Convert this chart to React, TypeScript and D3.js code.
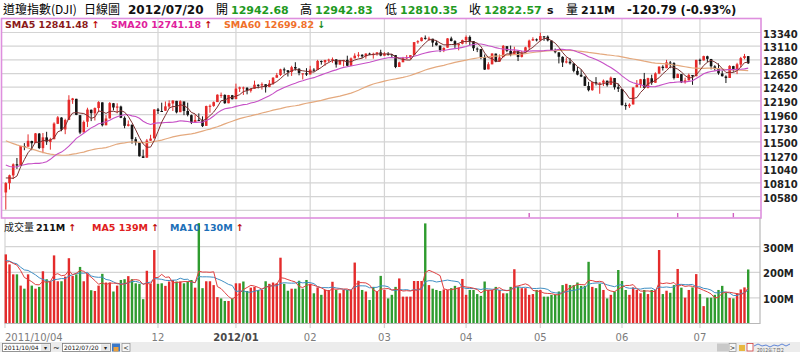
import React, { useEffect, useRef } from 'react';
import * as d3 from 'd3';

// DJI daily candles, 2011/10/04 .. 2012/07/20 (201 sessions)
const opens = [
  10650, 10806, 10936, 11124, 11105, 11430, 11420, 11515, 11480, 11640, 11395, 11576, 11500, 11545, 11805, 11910, 11710, 11870, 12205, 12225,
  11950, 11660, 11840, 12040, 11980, 12070, 12165, 11780, 11895, 12150, 12075, 12095, 11905, 11770, 11790, 11545, 11490, 11258, 11235, 11520, 11560,
  12045, 12020, 12025, 12095, 12145, 12190, 12000, 12180, 12020, 11950, 11825, 11870, 11865, 11770, 12100, 12105, 12170, 12290, 12290, 12150, 12285,
  12220, 12395, 12410, 12410, 12360, 12395, 12460, 12450, 12470, 12425, 12480, 12580, 12625, 12720, 12705, 12675, 12760, 12730, 12640, 12655,
  12635, 12715, 12710, 12860, 12840, 12875, 12885, 12888, 12800, 12875, 12880, 12780, 12905, 12950, 12965, 12940, 12985, 12960, 12980, 13005,
  12950, 12980, 12975, 12960, 12760, 12840, 12905, 12920, 12960, 13175, 13195, 13250, 13235, 13235, 13170, 13120, 13045, 13085, 13240, 13195, 13125, 13150,
  13210, 13265, 13195, 13070, 13060, 12925, 12720, 12805, 12985, 12850, 12925, 13110, 13030, 12970, 13025, 12930, 13005, 13090, 13205, 13225,
  13210, 13275, 13270, 13205, 13035, 13005, 12930, 12835, 12850, 12820, 12695, 12630, 12600, 12440, 12370, 12505, 12490, 12495, 12530, 12460, 12575, 12420,
  12390, 12120, 12100, 12130, 12420, 12460, 12555, 12410, 12570, 12495, 12650, 12765, 12740, 12835, 12825, 12575, 12640, 12505, 12535, 12625, 12605,
  12880, 12870, 12940, 12895, 12770, 12735, 12650, 12600, 12575, 12775, 12725, 12800, 12910, 12942.68,
];
const highs = [
  10824, 10950, 11139, 11230, 11433, 11480, 11627, 11520, 11650, 11650, 11650, 11670, 11570, 11830, 11935, 11915, 11890, 12285, 12240, 12225,
  11950, 11860, 12075, 12045, 12080, 12185, 12165, 11950, 12170, 12155, 12150, 12110, 11930, 11860, 11790, 11580, 11490, 11370, 11550, 11620, 12050,
  12070, 12160, 12180, 12200, 12200, 12190, 12200, 12180, 12160, 11960, 11960, 11980, 11930, 12110, 12130, 12180, 12300, 12330, 12300, 12290, 12290,
  12480, 12430, 12430, 12420, 12400, 12530, 12470, 12500, 12470, 12540, 12590, 12660, 12730, 12750, 12705, 12780, 12840, 12740, 12655, 12740,
  12780, 12740, 12880, 12870, 12880, 12900, 12920, 12890, 12880, 12880, 12950, 12920, 12990, 13010, 12975, 12990, 13000, 13000, 13010, 13050,
  13010, 13010, 12980, 12960, 12850, 12930, 12960, 12960, 13180, 13210, 13260, 13290, 13270, 13235, 13200, 13120, 13090, 13245, 13270, 13210, 13160, 13220,
  13290, 13290, 13195, 13090, 13060, 12970, 12840, 12990, 12985, 12970, 13130, 13110, 13120, 13100, 13025, 13030, 13100, 13220, 13260, 13240,
  13338, 13280, 13290, 13205, 13070, 13010, 12940, 12920, 12910, 12820, 12760, 12720, 12600, 12510, 12510, 12590, 12500, 12550, 12530, 12600, 12575, 12480,
  12390, 12160, 12150, 12420, 12540, 12560, 12660, 12580, 12630, 12670, 12770, 12790, 12880, 12860, 12840, 12650, 12640, 12580, 12650, 12625, 12880,
  12900, 12950, 12950, 12895, 12790, 12820, 12700, 12620, 12790, 12780, 12830, 12930, 12980, 12942.83,
];
const lows = [
  10362, 10700, 10875, 11046, 11105, 11360, 11420, 11360, 11480, 11380, 11310, 11450, 11370, 11545, 11800, 11680, 11630, 11870, 12140, 11950,
  11630, 11660, 11750, 11850, 11860, 12000, 11760, 11780, 11895, 12030, 11980, 11900, 11730, 11760, 11470, 11440, 11255, 11230, 11235, 11520, 11560,
  11970, 12010, 12020, 12060, 12020, 11980, 12000, 11950, 11930, 11800, 11825, 11850, 11750, 11770, 11990, 12090, 12170, 12240, 12140, 12150, 12215,
  12220, 12340, 12290, 12300, 12330, 12395, 12400, 12380, 12330, 12420, 12460, 12580, 12610, 12650, 12600, 12610, 12700, 12620, 12550, 12610,
  12635, 12680, 12710, 12800, 12780, 12840, 12830, 12750, 12800, 12770, 12770, 12780, 12905, 12920, 12910, 12900, 12960, 12900, 12950, 12940,
  12950, 12950, 12920, 12740, 12760, 12840, 12890, 12890, 12960, 13150, 13190, 13220, 13200, 13100, 13120, 13010, 13010, 13085, 13190, 13080, 13040, 13140,
  13150, 13130, 13030, 13010, 12890, 12710, 12720, 12805, 12840, 12850, 12925, 13010, 12940, 12970, 12860, 12920, 13000, 13050, 13200, 13190,
  13190, 13200, 13190, 13030, 12990, 12820, 12760, 12820, 12800, 12670, 12620, 12590, 12440, 12350, 12360, 12450, 12310, 12440, 12430, 12460, 12380, 12340,
  12110, 12040, 12070, 12130, 12420, 12410, 12400, 12400, 12460, 12495, 12640, 12700, 12740, 12740, 12550, 12575, 12490, 12480, 12535, 12460, 12605,
  12800, 12870, 12840, 12720, 12700, 12630, 12600, 12490, 12575, 12680, 12640, 12750, 12890, 12810.35,
];
const closes = [
  10808, 10939, 11123, 11103, 11433, 11416, 11519, 11478, 11644, 11397, 11577, 11505, 11541, 11809, 11913, 11707, 11869, 12209, 12231, 11955,
  11657, 11836, 12044, 11983, 12069, 12170, 11780, 11894, 12153, 12079, 12096, 11906, 11771, 11796, 11548, 11494, 11258, 11231, 11523, 11556, 12046,
  12020, 12019, 12098, 12150, 12196, 11997, 12184, 12021, 11955, 11824, 11869, 11866, 11766, 12103, 12107, 12169, 12294, 12291, 12151, 12288, 12218,
  12397, 12418, 12415, 12360, 12392, 12462, 12449, 12471, 12422, 12482, 12579, 12623, 12720, 12708, 12675, 12756, 12734, 12660, 12653, 12633,
  12716, 12705, 12862, 12845, 12878, 12884, 12891, 12801, 12874, 12878, 12781, 12904, 12950, 12966, 12938, 12985, 12983, 12981, 13005, 12952,
  12980, 12977, 12962, 12759, 12837, 12908, 12922, 12959, 13178, 13194, 13253, 13233, 13239, 13171, 13125, 13046, 13081, 13241, 13197, 13127, 13146, 13212,
  13264, 13199, 13075, 13060, 12929, 12716, 12806, 12987, 12850, 12921, 13115, 13033, 12965, 13029, 12928, 13002, 13091, 13204, 13229, 13214,
  13280, 13269, 13207, 13038, 13009, 12932, 12835, 12855, 12821, 12695, 12632, 12599, 12443, 12370, 12504, 12502, 12496, 12530, 12455, 12581, 12419, 12393,
  12119, 12101, 12127, 12415, 12461, 12554, 12411, 12573, 12497, 12652, 12767, 12742, 12838, 12825, 12574, 12641, 12503, 12535, 12627, 12602, 12880,
  12871, 12943, 12897, 12773, 12737, 12654, 12605, 12574, 12778, 12727, 12806, 12909, 12943, 12822.57,
];
// volume, millions of shares
const volumes = [
  270, 231, 192, 192, 148, 136, 192, 148, 136, 143, 204, 173, 165, 266, 165, 165, 183, 255, 186, 192,
  221, 165, 196, 130, 127, 148, 194, 160, 160, 125, 148, 170, 173, 185, 173, 157, 155, 95, 206, 155,
  287, 155, 157, 147, 164, 170, 164, 164, 157, 164, 170, 140, 392, 138, 165, 165, 150, 103, 98, 88,
  88, 98, 157, 157, 164, 127, 140, 143, 131, 131, 165, 155, 160, 157, 257, 155, 128, 136, 136, 167,
  136, 170, 155, 118, 141, 112, 131, 131, 163, 131, 118, 131, 131, 131, 238, 167, 131, 125, 92, 143,
  125, 186, 131, 98, 112, 143, 176, 105, 105, 105, 166, 166, 166, 391, 150, 136, 131, 127, 133, 131,
  138, 147, 141, 174, 112, 131, 131, 115, 108, 164, 131, 131, 143, 131, 118, 118, 143, 212, 143, 138,
  138, 112, 115, 131, 131, 105, 105, 112, 112, 125, 150, 155, 150, 150, 160, 147, 147, 241, 143, 138,
  155, 131, 98, 112, 125, 209, 166, 131, 112, 141, 131, 118, 131, 115, 131, 131, 287, 115, 128, 120,
  150, 213, 140, 101, 131, 141, 193, 115, 68, 101, 101, 112, 131, 147, 120, 100, 98, 118, 133, 141,
  211,
];
// sessions before 2011/10/04, only needed to warm up the moving averages
const priorCloses = [
  12505, 12446, 12491, 12437, 12480, 12385, 12587, 12572, 12724, 12681, 12592, 12501, 12302, 12240, 12143,
  12132, 11867, 11896, 11384, 11445, 10810, 11240, 10720, 11143, 11270, 11483, 11406, 11410, 10991, 10818,
  10855, 11177, 11321, 11150, 11285, 11540, 11560, 11614,
  11494, 11240, 11139, 11415, 11296, 10992, 11062, 11106, 11247, 11434, 11510, 11401, 11409, 11125, 10734,
  10772, 11044, 11191, 10939, 11154, 10913, 10655,
];
const priorVolumes = [250, 265, 230, 280, 240, 215, 230, 225, 255];

const monthDays = [20, 21, 21, 20, 20, 22, 20, 22, 21, 14];
const monthLabels = ['2011/10/04', '', '12', '2012/01', '02', '03', '04', '05', '06', '07'];
const priceTicks = [13340, 13110, 12880, 12650, 12420, 12190, 11960, 11730, 11500, 11270, 11040, 10810, 10580, 10350];
const volumeTicks = [100, 200, 300];
const markerDays = [141, 181, 196];

const CJK = '"Noto Sans CJK TC", "Noto Sans", sans-serif';
const NUM = '"DejaVu Sans", Verdana, sans-serif';

function movingAvg(values: number[], prior: number[], n: number) {
  const all = prior.concat(values);
  return values.map((_, i) => {
    const end = prior.length + i + 1;
    const start = Math.max(0, end - n);
    return d3.mean(all.slice(start, end)) as number;
  });
}

export default function App() {
  const ref = useRef<SVGSVGElement>(null);

  useEffect(() => {
    drawChart();
  }, []);

  function drawChart() {
    const svg = d3.select(ref.current);
    svg.selectAll('*').remove();

    const n = closes.length;
    const x = d3.scaleLinear().domain([0, n - 1]).range([5.8, 748.2]);
    const y = d3.scaleLinear().domain([10350, 13340]).range([210.3, 32.5]);
    const yv = d3.scaleLinear().domain([0, 300]).range([323.5, 246.7]);

    const sma5 = movingAvg(closes, priorCloses, 5);
    const sma20 = movingAvg(closes, priorCloses, 20);
    const sma60 = movingAvg(closes, priorCloses, 60);
    const vma5 = movingAvg(volumes, priorVolumes, 5);
    const vma10 = movingAvg(volumes, priorVolumes, 10);

    svg.append('rect').attr('width', 800).attr('height', 352).attr('fill', '#fff');

    // header line
    const head = svg.append('g');
    const headItems: [number, string, string, string, number, string][] = [
      [3, '道瓊指數(DJI)', '#000', 'normal', 12, CJK],
      [84, '日線圖', '#000', 'normal', 12, CJK],
      [128, '2012/07/20', '#111', 'bold', 12, NUM],
      [216, '開', '#000', 'normal', 12, CJK],
      [231, '12942.68', '#1f9a1f', 'bold', 11, NUM],
      [300, '高', '#000', 'normal', 12, CJK],
      [315, '12942.83', '#1f9a1f', 'bold', 11, NUM],
      [385, '低', '#000', 'normal', 12, CJK],
      [400, '12810.35', '#1f9a1f', 'bold', 11, NUM],
      [469, '收', '#000', 'normal', 12, CJK],
      [484, '12822.57', '#1f9a1f', 'bold', 11, NUM],
      [547, 's', '#111', 'bold', 11, NUM],
      [566, '量', '#000', 'normal', 12, CJK],
      [581, '211M', '#111', 'bold', 11, NUM],
      [627, '-120.79 (-0.93%)', '#111', 'bold', 11.6, NUM],
    ];
    headItems.forEach(([hx, t, c, w, s, f]) => {
      head.append('text').attr('x', hx).attr('y', 14).attr('fill', c)
        .attr('font-weight', w).attr('font-size', s).attr('font-family', f).text(t);
    });

    // grid
    const grid = svg.append('g').attr('stroke', '#d4d4d4').attr('stroke-width', 1.2);
    priceTicks.forEach(v => {
      grid.append('line').attr('x1', 2).attr('x2', 761).attr('y1', y(v)).attr('y2', y(v));
    });
    volumeTicks.forEach(v => {
      grid.append('line').attr('x1', 5).attr('x2', 760).attr('y1', yv(v)).attr('y2', yv(v));
    });
    const monthStart = d3.cumsum([0].concat(monthDays.slice(0, -1)));
    monthLabels.forEach((lab, m) => {
      if (!lab || m === 0) return;
      const mx = x(monthStart[m]);
      grid.append('line').attr('x1', mx).attr('x2', mx).attr('y1', 18).attr('y2', 328);
    });
    grid.append('line').attr('x1', 5).attr('x2', 5).attr('y1', 218).attr('y2', 328);

    // candles
    const candles = svg.append('g');
    closes.forEach((c, i) => {
      const o = opens[i];
      const up = c >= o;
      const col = up ? '#e62a2a' : '#141414';
      const cx = x(i);
      candles.append('line').attr('x1', cx).attr('x2', cx)
        .attr('y1', y(highs[i])).attr('y2', y(lows[i])).attr('stroke', col).attr('stroke-width', 1);
      const top = y(Math.max(o, c));
      const h = Math.max(1, Math.abs(y(o) - y(c)));
      candles.append('rect').attr('x', cx - 1.3).attr('y', top).attr('width', 2.6).attr('height', h).attr('fill', col);
    });

    const line = d3.line<number>().x((_, i) => x(i)).y(d => y(d));
    svg.append('path').datum(sma60).attr('fill', 'none').attr('stroke', '#e4a97e').attr('stroke-width', 1.2).attr('d', line);
    svg.append('path').datum(sma20).attr('fill', 'none').attr('stroke', '#c650c6').attr('stroke-width', 1.1).attr('d', line);
    svg.append('path').datum(sma5).attr('fill', 'none').attr('stroke', '#7d3030').attr('stroke-width', 1).attr('d', line);

    // event markers at the bottom of the price panel
    markerDays.forEach(d => {
      svg.append('rect').attr('x', x(d) - 0.7).attr('y', 213).attr('width', 1.4).attr('height', 4.5).attr('fill', '#d060c0');
    });

    // volume bars
    const vol = svg.append('g');
    volumes.forEach((v, i) => {
      const prev = i === 0 ? priorCloses[priorCloses.length - 1] : closes[i - 1];
      const col = closes[i] >= prev ? '#e42b2b' : '#2e9b2e';
      vol.append('rect').attr('x', x(i) - 1.2).attr('y', yv(v)).attr('width', 2.4)
        .attr('height', yv(0) - yv(v)).attr('fill', col);
    });
    const vline = d3.line<number>().x((_, i) => x(i)).y(d => yv(d));
    svg.append('path').datum(vma10).attr('fill', 'none').attr('stroke', '#3f8fc4').attr('stroke-width', 1).attr('d', vline);
    svg.append('path').datum(vma5).attr('fill', 'none').attr('stroke', '#e04040').attr('stroke-width', 1).attr('d', vline);

    // panel frames
    svg.append('rect').attr('x', 1.5).attr('y', 18.5).attr('width', 759.5).attr('height', 199.5)
      .attr('fill', 'none').attr('stroke', '#de8fde').attr('stroke-width', 1.6);
    svg.append('polyline').attr('points', '760,218 760,323.5 5,323.5').attr('fill', 'none')
      .attr('stroke', '#b8b8b8').attr('stroke-width', 1.2);

    // right axes
    priceTicks.slice(0, -1).forEach(v => {
      svg.append('text').attr('x', 763).attr('y', y(v) + 5).attr('font-family', NUM).attr('font-weight', 'bold')
        .attr('font-size', 10).attr('fill', '#222').text(v);
    });
    volumeTicks.forEach(v => {
      svg.append('text').attr('x', 763).attr('y', yv(v) + 5).attr('font-family', NUM).attr('font-weight', 'bold')
        .attr('font-size', 10).attr('fill', '#222').text(`${v}M`);
    });

    // month labels
    monthLabels.forEach((lab, m) => {
      if (!lab) return;
      const t = svg.append('text').attr('y', 340.5).attr('font-family', NUM).attr('font-size', 10)
        .attr('fill', lab.length === 7 ? '#4a4a4a' : '#7c7c7c').attr('font-weight', lab.length === 7 ? 'bold' : 'normal').text(lab);
      if (m === 0) t.attr('x', 5);
      else t.attr('x', x(monthStart[m])).attr('text-anchor', 'middle');
    });

    // legends
    const legend = (g: any, lx: number, ly: number, label: string, col: string, arrow: string, arrowCol: string, size: number) => {
      const t = g.append('text').attr('x', lx).attr('y', ly).attr('font-family', NUM).attr('font-weight', 'bold')
        .attr('font-size', size).attr('fill', col);
      t.append('tspan').text(label + ' ');
      t.append('tspan').attr('fill', arrowCol).text(arrow);
    };
    const lg = svg.append('g');
    legend(lg, 5, 27.5, 'SMA5 12841.48', '#8b1a1a', '↑', '#c01010', 9.5);
    legend(lg, 111, 27.5, 'SMA20 12741.18', '#e0209c', '↑', '#c01010', 9.5);
    legend(lg, 224, 27.5, 'SMA60 12699.82', '#f0702a', '↓', '#1a8a1a', 9.5);

    lg.append('text').attr('x', 4).attr('y', 231).attr('font-family', CJK).attr('font-size', 10).attr('fill', '#222').text('成交量');
    legend(lg, 36, 231, '211M', '#111', '↑', '#c01010', 9.5);
    legend(lg, 92, 231, 'MA5 139M', '#e02020', '↑', '#c01010', 9.5);
    legend(lg, 170, 231, 'MA10 130M', '#1c6fb8', '↑', '#c01010', 9.5);

    // bottom toolbar
    const bar = svg.append('g');
    bar.append('rect').attr('x', 0).attr('y', 342).attr('width', 800).attr('height', 10).attr('fill', '#ececec');
    [[2.5, '2011/10/04'], [62.5, '2012/07/20']].forEach(([bx, t]) => {
      const b = Number(bx);
      bar.append('rect').attr('x', b).attr('y', 343.5).attr('width', 48).attr('height', 8)
        .attr('fill', '#fff').attr('stroke', '#7a7a7a').attr('stroke-width', 0.8);
      bar.append('text').attr('x', b + 1.5).attr('y', 350.2).attr('font-family', NUM).attr('font-size', 6).attr('fill', '#111').text(String(t));
      bar.append('rect').attr('x', b + 38.5).attr('y', 344.3).attr('width', 8.7).attr('height', 6.5).attr('fill', '#e4e4e4');
      bar.append('text').attr('x', b + 42.8).attr('y', 350).attr('text-anchor', 'middle').attr('font-size', 6).attr('fill', '#222').text('▾');
    });
    bar.append('text').attr('x', 53).attr('y', 350.5).attr('font-family', NUM).attr('font-size', 8).attr('fill', '#222').text('~');
    bar.append('rect').attr('x', 112).attr('y', 343.5).attr('width', 8).attr('height', 8).attr('fill', '#3a78c8');
    bar.append('rect').attr('x', 113.5).attr('y', 347).attr('width', 5).attr('height', 4.5).attr('fill', '#e8a040');
    bar.append('rect').attr('x', 122).attr('y', 343.5).attr('width', 8).attr('height', 8)
      .attr('fill', '#f6f6f6').attr('stroke', '#8a8a8a').attr('stroke-width', 0.7);
    bar.append('text').attr('x', 126).attr('y', 350).attr('text-anchor', 'middle').attr('font-family', NUM).attr('font-size', 6.5).attr('fill', '#111').text('<');
    bar.append('rect').attr('x', 717).attr('y', 343.5).attr('width', 11).attr('height', 8).attr('fill', '#c9c9c9');
    bar.append('rect').attr('x', 729).attr('y', 343.5).attr('width', 7).attr('height', 8)
      .attr('fill', '#f6f6f6').attr('stroke', '#8a8a8a').attr('stroke-width', 0.7);
    bar.append('text').attr('x', 732.5).attr('y', 350).attr('text-anchor', 'middle').attr('font-family', NUM).attr('font-size', 6.5).attr('fill', '#111').text('>');
    bar.append('rect').attr('x', 739).attr('y', 345).attr('width', 6).attr('height', 6).attr('fill', '#e8b840');
    bar.append('rect').attr('x', 747).attr('y', 343.5).attr('width', 6).attr('height', 7.5).attr('fill', '#fff')
      .attr('stroke', '#d04040').attr('stroke-width', 0.8);
    bar.append('path').attr('d', 'M754,346 l4,-2 l4,2 l4,-1 l4,2 l4,-2 l4,1 l4,-2 l4,2 l4,-2')
      .attr('fill', 'none').attr('stroke', '#3a6ad0').attr('stroke-width', 0.8);
    bar.append('text').attr('x', 757).attr('y', 351.5).attr('font-family', CJK).attr('font-size', 5).attr('fill', '#666').text('2012年7月2');
  }

  return (
    <div>
      <style>{'body{margin:0}'}</style>
      <svg ref={ref} width={800} height={352} style={{ display: 'block' }} />
    </div>
  );
}
